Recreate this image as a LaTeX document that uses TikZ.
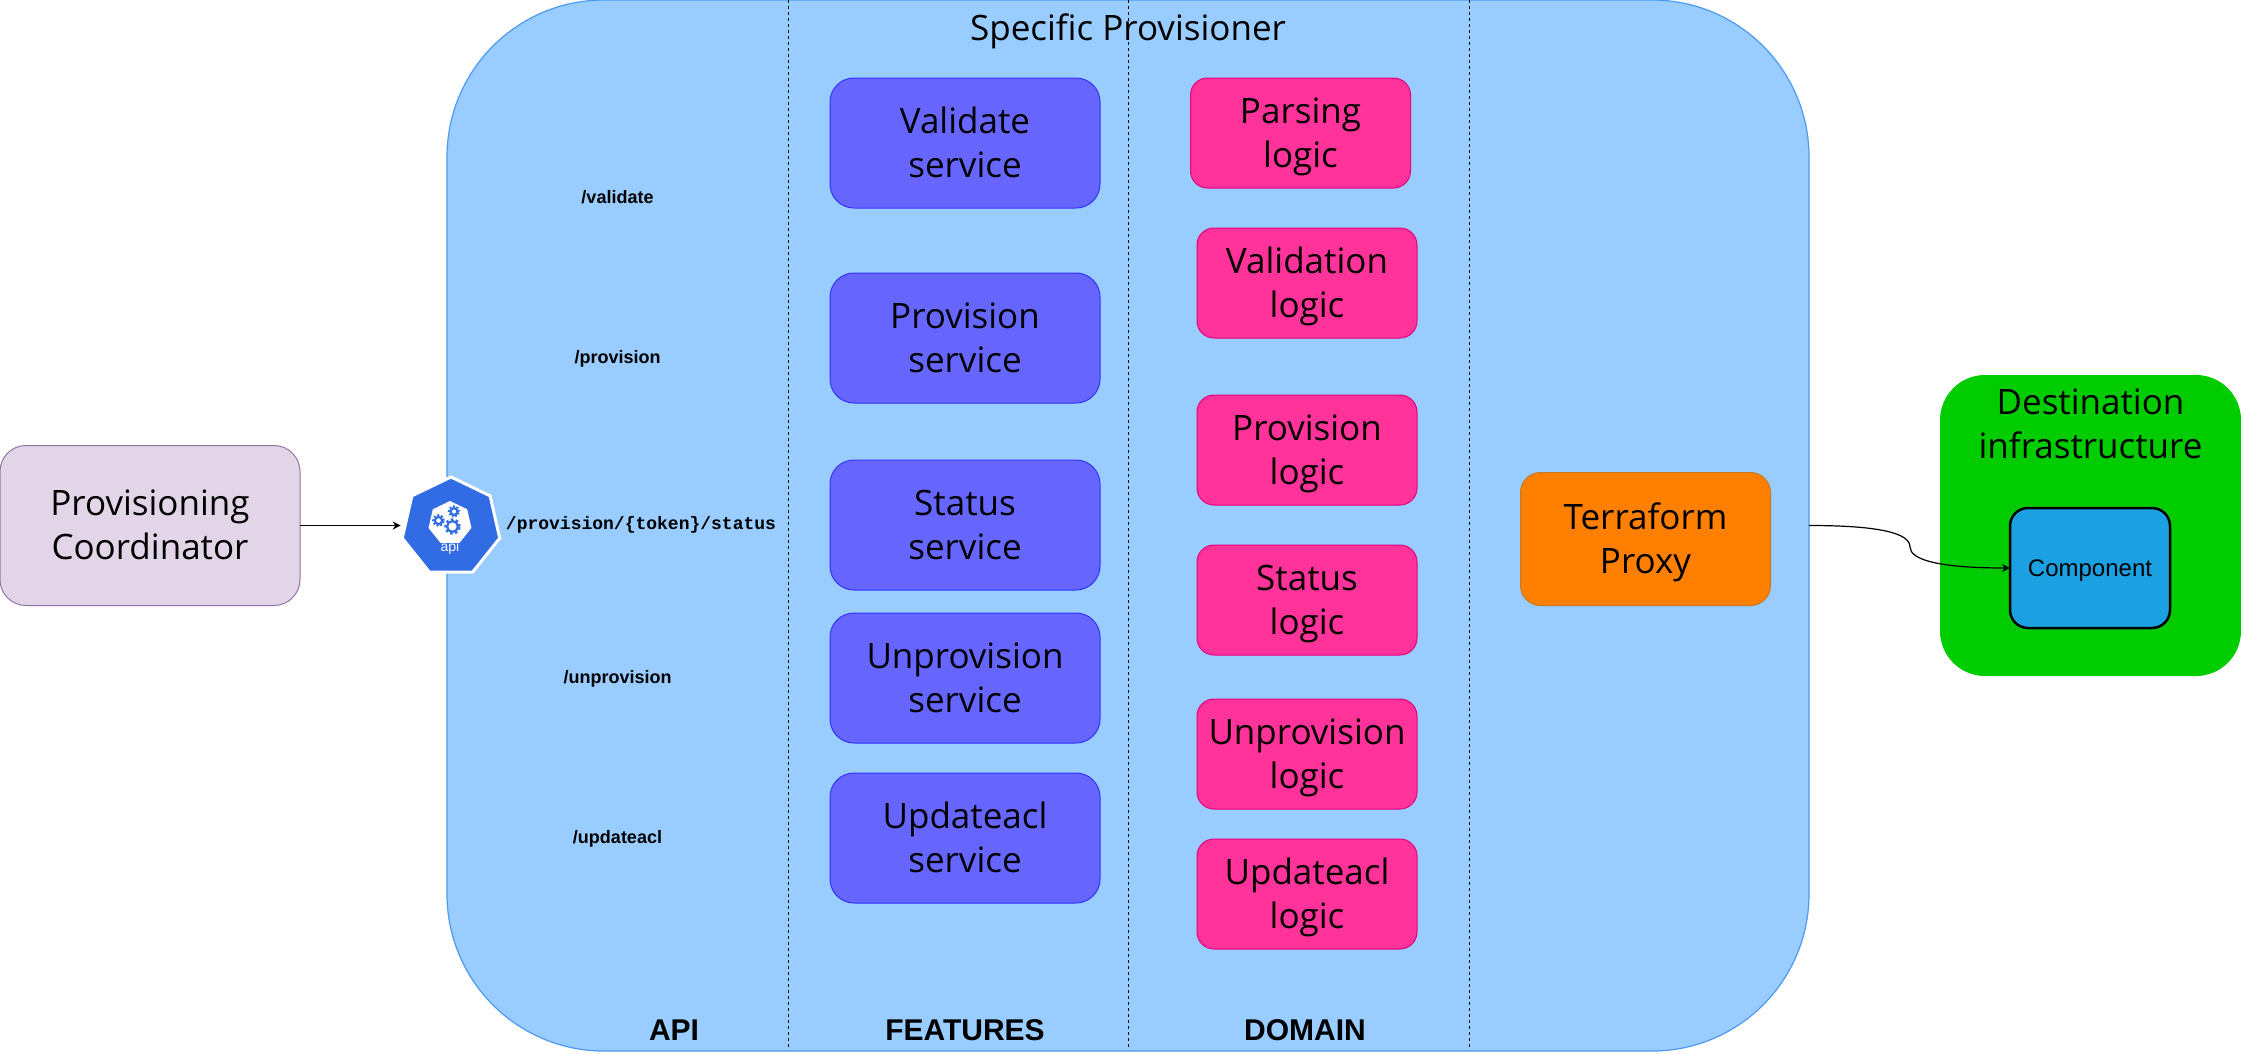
\documentclass[tikz,border=0pt]{standalone}
\usepackage{fontspec}
\setmainfont{Open Sans}
\newfontfamily\arialfont{Liberation Sans}
\newfontfamily\courfont{Liberation Mono}
\usetikzlibrary{positioning,shapes.geometric,arrows.meta}

\newcommand{\linestrut}{\rule[-10pt]{0pt}{44pt}}
\newcommand{\twolines}[2]{\linestrut #1\\#2\linestrut}
\definecolor{srvfill}{HTML}{6666FF}
\definecolor{srvline}{HTML}{3333FF}
\definecolor{logicfill}{HTML}{FF3399}
\definecolor{logicline}{HTML}{E6007E}
\definecolor{mainfill}{HTML}{99CCFF}
\definecolor{mainline}{HTML}{4C9AF0}
\definecolor{kube}{HTML}{326CE5}
\definecolor{coordfill}{HTML}{E1D5E7}
\definecolor{coordline}{HTML}{9673A6}
\definecolor{destfill}{HTML}{00CC00}
\definecolor{proxyfill}{HTML}{FF8000}
\definecolor{proxyline}{HTML}{C87A20}
\definecolor{compfill}{HTML}{1BA1E2}

\tikzset{
    bigtext/.style={align=center, inner sep=0pt, outer sep=0pt, font=\fontsize{35}{44}\selectfont},
    box/.style={draw, bigtext, line width=1pt},
    service/.style={box, fill=srvfill, draw=srvline, rounded corners=24pt, minimum width=270pt, minimum height=130pt},
    logic/.style={box, fill=logicfill, draw=logicline, rounded corners=17pt, minimum width=220pt, minimum height=110pt},
    route/.style={font=\arialfont\bfseries\fontsize{18}{22}\selectfont, inner sep=0pt, text height=13pt, text depth=4pt},
    layer/.style={font=\arialfont\bfseries\fontsize{30}{36}\selectfont, inner sep=0pt},
    sep/.style={dash pattern=on 3pt off 3pt, line width=1pt, draw=black},
    link/.style={-{Stealth[length=8pt,width=8pt]}, line width=1.2pt},
}

\begin{document}
\begin{tikzpicture}[x=1pt, y=-1pt]
    \useasboundingbox (0,0) rectangle (2241,1053);

    % outer boxes
    \node [draw=mainline, fill=mainfill, rounded corners=157pt, minimum width=1362pt, minimum height=1051pt, line width=1.2pt, outer sep=0pt] (main) at (1128,525.5) {};
    \node [box, fill=coordfill, draw=coordline, rounded corners=26pt, minimum width=300pt, minimum height=160pt] (coord) at (150,525.5) {\twolines{Provisioning}{Coordinator}};
    \node [fill=destfill, rounded corners=45pt, minimum width=301pt, minimum height=301pt, inner sep=0pt, outer sep=0pt] (dest) at (2090.5,525.5) {};
    \node [bigtext, below=5pt of dest.north] (desttxt) {\twolines{Destination}{infrastructure}};

    \node [bigtext] (title) at (1128,28) {\linestrut Specific Provisioner};

    \coordinate (s1) at (788,0);
    \coordinate (s2) at (1128,0);
    \coordinate (s3) at (1469,0);
    \foreach \i in {1,2,3}
        \draw [sep] (s\i) -- ++(0,1050);

    % features
    \node [service] (fval) at (965,143) {\twolines{Validate}{service}};
    \node [service, below=65pt of fval] (fpro) {\twolines{Provision}{service}};
    \node [service, below=57pt of fpro] (fsta) {\twolines{Status}{service}};
    \node [service, below=23pt of fsta] (funp) {\twolines{Unprovision}{service}};
    \node [service, below=30pt of funp] (fupd) {\twolines{Updateacl}{service}};

    % domain
    \node [logic] (dpar) at (1300.5,133) {\twolines{Parsing}{logic}};
    \node [logic] (dval) at (1307,283) {\twolines{Validation}{logic}};
    \node [logic, below=57pt of dval] (dpro) {\twolines{Provision}{logic}};
    \node [logic, below=40pt of dpro] (dsta) {\twolines{Status}{logic}};
    \node [logic, below=44pt of dsta] (dunp) {\twolines{Unprovision}{logic}};
    \node [logic, below=30pt of dunp] (dupd) {\twolines{Updateacl}{logic}};

    \node [box, fill=proxyfill, draw=proxyline, rounded corners=20pt, minimum width=250pt, minimum height=133pt] (proxy) at (1645.5,539) {\twolines{Terraform}{Proxy}};

    \node [draw=black, fill=compfill, line width=2.5pt, inner sep=0pt, outer sep=0pt, rounded corners=18pt, minimum width=160pt, minimum height=120pt, text height=18pt, text depth=2pt, font=\arialfont\fontsize{24}{28}\selectfont] (comp) at (2090,568) {Component};

    % api
    \node [regular polygon, regular polygon sides=7, fill=kube, draw=white, line width=3pt, minimum size=100pt, inner sep=0pt, outer sep=4pt] (api) at (451,527) {};
    \node [regular polygon, regular polygon sides=7, fill=white, minimum size=44pt, inner sep=0pt] (apiin) at (450,523) {};
    \foreach \gx/\gy/\gr/\gd in {438.5/520.5/3.6/1.9, 454/511.5/3.4/1.8, 452.5/526.5/5.4/2.6} {
        \draw [kube, line width=2.2pt] (\gx,\gy) circle (\gr pt);
        \draw [kube, line width=2pt, dash pattern=on \gd pt off \gd pt] (\gx,\gy) circle (\gr pt + 1.8pt);
    }
    \node [text=white, font=\arialfont\fontsize{14}{16}\selectfont, inner sep=0pt] (apitxt) at (450,548) {api};

    \node [route] (rval) at (617.5,198.8) {/validate};
    \node [route] (rpro) at (617.5,358.8) {/provision};
    \node [route, font=\courfont\bfseries\fontsize{18}{22}\selectfont] (rsta) at (641,525) {/provision/\{token\}/status};
    \node [route] (runp) at (617.5,678.8) {/unprovision};
    \node [route] (rupd) at (617.5,838.8) {/updateacl};

    \node [layer] (lapi) at (674,1030) {API};
    \node [layer] (lfea) at (965,1030) {FEATURES};
    \node [layer] (ldom) at (1305,1030) {DOMAIN};

    \draw [link] (coord) -- (coord -| api.west);
    \draw [link] (main.east) .. controls +(70,0) and (1910,533) .. (1910,547) .. controls (1910,560) and (1940,568) .. (comp.west);
\end{tikzpicture}
\end{document}
